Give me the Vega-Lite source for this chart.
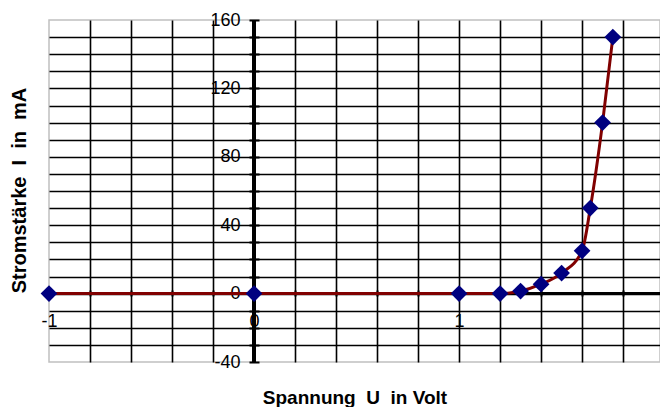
{
  "$schema": "https://vega.github.io/schema/vega-lite/v6.json",
  "width": 611,
  "height": 342,
  "autosize": "none",
  "padding": {"left": 49, "top": 20, "right": 0, "bottom": 45},
  "background": "white",
  "config": {
    "font": "Liberation Sans",
    "view": {"stroke": "#c0c0c0", "strokeWidth": 1.5}
  },
  "data": {
    "values": [
      {"U": -1, "I": 0},
      {"U": 0, "I": 0},
      {"U": 1, "I": 0},
      {"U": 1.2, "I": 0},
      {"U": 1.3, "I": 1.5},
      {"U": 1.4, "I": 5.5},
      {"U": 1.5, "I": 12},
      {"U": 1.6, "I": 25},
      {"U": 1.64, "I": 50},
      {"U": 1.7, "I": 100},
      {"U": 1.75, "I": 150}
    ]
  },
  "layer": [
    {
      "mark": {"type": "rule", "color": "black", "strokeWidth": 3},
      "encoding": {
        "x": {
          "datum": 0,
          "type": "quantitative",
          "scale": {"domain": [-1, 1.98], "nice": false, "zero": false},
          "axis": {
            "orient": "bottom",
            "values": [-0.8, -0.6, -0.4, -0.2, 0, 0.2, 0.4, 0.6, 0.8, 1, 1.2, 1.4, 1.6, 1.8, 2],
            "grid": true,
            "gridColor": "black",
            "gridWidth": 1.6,
            "gridOpacity": 1,
            "domain": false,
            "ticks": false,
            "labels": false,
            "title": "Spannung\u00a0\u00a0U\u00a0\u00a0in Volt",
            "titleFontSize": 19,
            "titleFontWeight": "bold",
            "titleColor": "black",
            "titleBaseline": "alphabetic",
            "titleY": 41
          }
        }
      }
    },
    {
      "mark": {"type": "rule", "color": "black", "strokeWidth": 3},
      "encoding": {
        "y": {
          "datum": 0,
          "type": "quantitative",
          "scale": {"domain": [-40, 160], "nice": false, "zero": false},
          "axis": {
            "orient": "left",
            "values": [-30, -20, -10, 0, 10, 20, 30, 40, 50, 60, 70, 80, 90, 100, 110, 120, 130, 140, 150],
            "grid": true,
            "gridColor": "black",
            "gridWidth": 1.6,
            "gridOpacity": 1,
            "domain": false,
            "ticks": false,
            "labels": false,
            "title": "Stromstärke\u00a0\u00a0I\u00a0\u00a0in\u00a0\u00a0mA",
            "titleFontSize": 20,
            "titleFontWeight": "bold",
            "titleColor": "black",
            "titleBaseline": "alphabetic",
            "titleAlign": "center",
            "titleAngle": -90,
            "titleX": -24,
            "titleY": 170
          }
        }
      }
    },
    {
      "mark": {"type": "line", "color": "#800000", "strokeWidth": 3, "interpolate": "monotone"},
      "encoding": {
        "x": {
          "field": "U",
          "type": "quantitative",
          "scale": {"domain": [-1, 1.98], "nice": false, "zero": false},
          "axis": {
            "orient": "bottom",
            "offset": -72,
            "values": [-1, -0.8, -0.6, -0.4, -0.2, 0, 0.2, 0.4, 0.6, 0.8, 1, 1.2, 1.4, 1.6, 1.8, 2],
            "grid": false,
            "domain": false,
            "ticks": true,
            "tickSize": 6,
            "tickWidth": 2,
            "tickColor": "black",
            "labelExpr": "datum.value % 1 === 0 ? '' + datum.value : ''",
            "labelFontSize": 18,
            "labelColor": "black",
            "labelPadding": 16,
            "labelFlush": false,
            "labelBound": false,
            "labelOverlap": false,
            "labelBaseline": "top",
            "title": null
          }
        },
        "y": {
          "field": "I",
          "type": "quantitative",
          "scale": {"domain": [-40, 160], "nice": false, "zero": false},
          "axis": {
            "orient": "left",
            "offset": -210,
            "values": [-40, -30, -20, -10, 0, 10, 20, 30, 40, 50, 60, 70, 80, 90, 100, 110, 120, 130, 140, 150, 160],
            "grid": false,
            "domain": false,
            "ticks": true,
            "tickSize": 10,
            "tickWidth": 2,
            "tickColor": "black",
            "labelExpr": "datum.value % 40 === 0 ? '' + datum.value : ''",
            "labelFontSize": 18,
            "labelColor": "black",
            "labelPadding": 9,
            "labelFlush": false,
            "labelBound": false,
            "labelOverlap": false,
            "labelBaseline": "middle",
            "title": null
          }
        }
      }
    },
    {
      "mark": {"type": "point", "shape": "diamond", "size": 280, "filled": true, "color": "#000080", "opacity": 1},
      "encoding": {
        "x": {"field": "U", "type": "quantitative", "axis": null},
        "y": {"field": "I", "type": "quantitative", "axis": null}
      }
    }
  ],
  "resolve": {"axis": {"x": "independent", "y": "independent"}}
}
